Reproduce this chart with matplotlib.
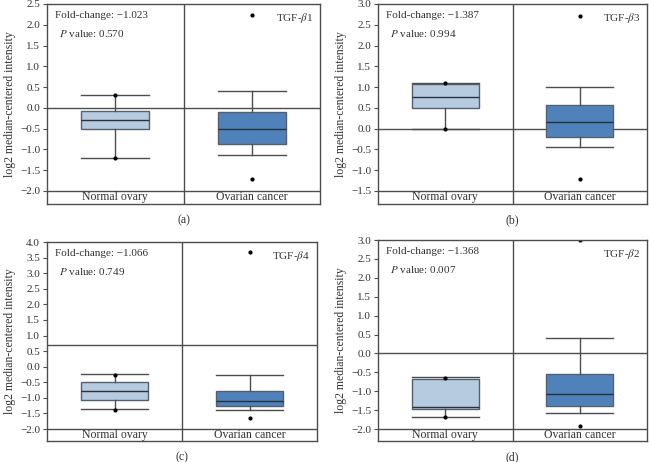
import numpy as np
import matplotlib
matplotlib.use("Agg")
import matplotlib.pyplot as plt

plt.rcParams['font.family'] = ['Liberation Serif', 'DejaVu Serif']
plt.rcParams['mathtext.fontset'] = 'stix'

groups = ["Normal ovary", "Ovarian cancer"]
genes = ["TGF-$\\beta$1", "TGF-$\\beta$3", "TGF-$\\beta$4", "TGF-$\\beta$2"]
fold_change = ["\u22121.023", "\u22121.387", "\u22121.066", "\u22121.368"]
p_values = ["0.570", "0.994", "0.749", "0.007"]
captions = ["(a)", "(b)", "(c)", "(d)"]

# box summaries: [whislo, q1, median, q3, whishi] per group
normal_stats = [
    [-1.20, -0.51, -0.28, -0.07, 0.32],
    [0.00, 0.50, 0.75, 1.08, 1.11],
    [-1.37, -1.08, -0.77, -0.48, -0.24],
    [-1.68, -1.48, -1.42, -0.69, -0.63],
]
cancer_stats = [
    [-1.13, -0.86, -0.50, -0.09, 0.40],
    [-0.44, -0.19, 0.16, 0.58, 1.00],
    [-1.40, -1.26, -1.09, -0.78, -0.26],
    [-1.57, -1.40, -1.08, -0.55, 0.40],
]
normal_points = [[0.32, -1.20], [1.11, 0.00], [-0.26, -1.38], [-0.64, -1.69]]
cancer_points = [[2.24, -1.72], [2.72, -1.21], [3.67, -1.64], [2.99, -1.93]]

# axis ranges
y_top = [2.5, 3.0, 4.0, 3.0]
y_floor = [-2.0, -1.5, -2.0, -2.0]
strip = [0.313, 0.313, 0.385, 0.317]
hline = [0.0, 0.0, 0.69, 0.0]

W, H = 649, 462
# left, right, top, bottom in pixels
boxes_px = [(47, 320, 4, 204), (378, 647, 4, 204),
            (47, 317, 242, 441), (378, 647, 240, 441)]

fig = plt.figure(figsize=(W / 100, H / 100), dpi=100)

line_col = "#4d4d4d"
colors = ["#b7cbe0", "#4f82ba"]

for i in range(4):
    l, r, t, b = boxes_px[i]
    ax = fig.add_axes([l / W, 1 - b / H, (r - l) / W, (b - t) / H])
    stats = []
    for vals, pts, lab in [(normal_stats[i], normal_points[i], groups[0]),
                           (cancer_stats[i], cancer_points[i], groups[1])]:
        stats.append(dict(whislo=vals[0], q1=vals[1], med=vals[2], q3=vals[3],
                          whishi=vals[4], fliers=pts, label=lab))
    bp = ax.bxp(stats, positions=[1, 2], widths=0.5, patch_artist=True,
                showfliers=True, manage_ticks=False,
                boxprops=dict(edgecolor="#55606b", linewidth=1.0),
                medianprops=dict(color="#26323e", linewidth=1.0),
                whiskerprops=dict(color=line_col, linewidth=1.0),
                capprops=dict(color=line_col, linewidth=1.0),
                capwidths=0.5,
                flierprops=dict(marker="o", markersize=2.0, markerfacecolor="black",
                                markeredgecolor="black", linestyle="none"))
    for patch, c in zip(bp["boxes"], colors):
        patch.set_facecolor(c)

    ax.set_xlim(0.5, 2.5)
    ax.set_ylim(y_floor[i] - strip[i], y_top[i])
    ax.axhline(hline[i], color=line_col, linewidth=1.0, zorder=0)
    ax.axhline(y_floor[i], color=line_col, linewidth=1.0)
    ax.axvline(1.5, color=line_col, linewidth=1.0)

    ticks = np.arange(y_floor[i], y_top[i] + 0.01, 0.5)
    ax.set_yticks(ticks)
    ax.set_yticklabels([f"{v:.1f}".replace("-", "\u2212") for v in ticks])
    ax.set_xticks([])
    ax.tick_params(axis="y", labelsize=8, length=3, width=0.8, color=line_col,
                   pad=2, labelcolor="#333333")
    for s in ax.spines.values():
        s.set_color(line_col)
        s.set_linewidth(1.0)
    ax.set_ylabel("log2 median-centered intensity", fontsize=8.5, color="#333333",
                  labelpad=3)

    ymid = y_floor[i] - strip[i] / 2
    for x, g in zip([1, 2], groups):
        ax.text(x, ymid, g, ha="center", va="center", fontsize=8.5, color="#333333")

    ax.text(0.03, 0.965, "Fold-change: " + fold_change[i], transform=ax.transAxes,
            ha="left", va="top", fontsize=8, color="#333333")
    ax.text(0.045, 0.88, "$P$ value: " + p_values[i], transform=ax.transAxes,
            ha="left", va="top", fontsize=8, color="#333333")
    ax.text(0.975, 0.965, genes[i], transform=ax.transAxes,
            ha="right", va="top", fontsize=8, color="#333333")

    fig.text((l + r) / 2 / W, 1 - (b + 16) / H, captions[i], ha="center",
             va="center", fontsize=8.5, color="#333333")

fig.savefig("out.png", dpi=100)
